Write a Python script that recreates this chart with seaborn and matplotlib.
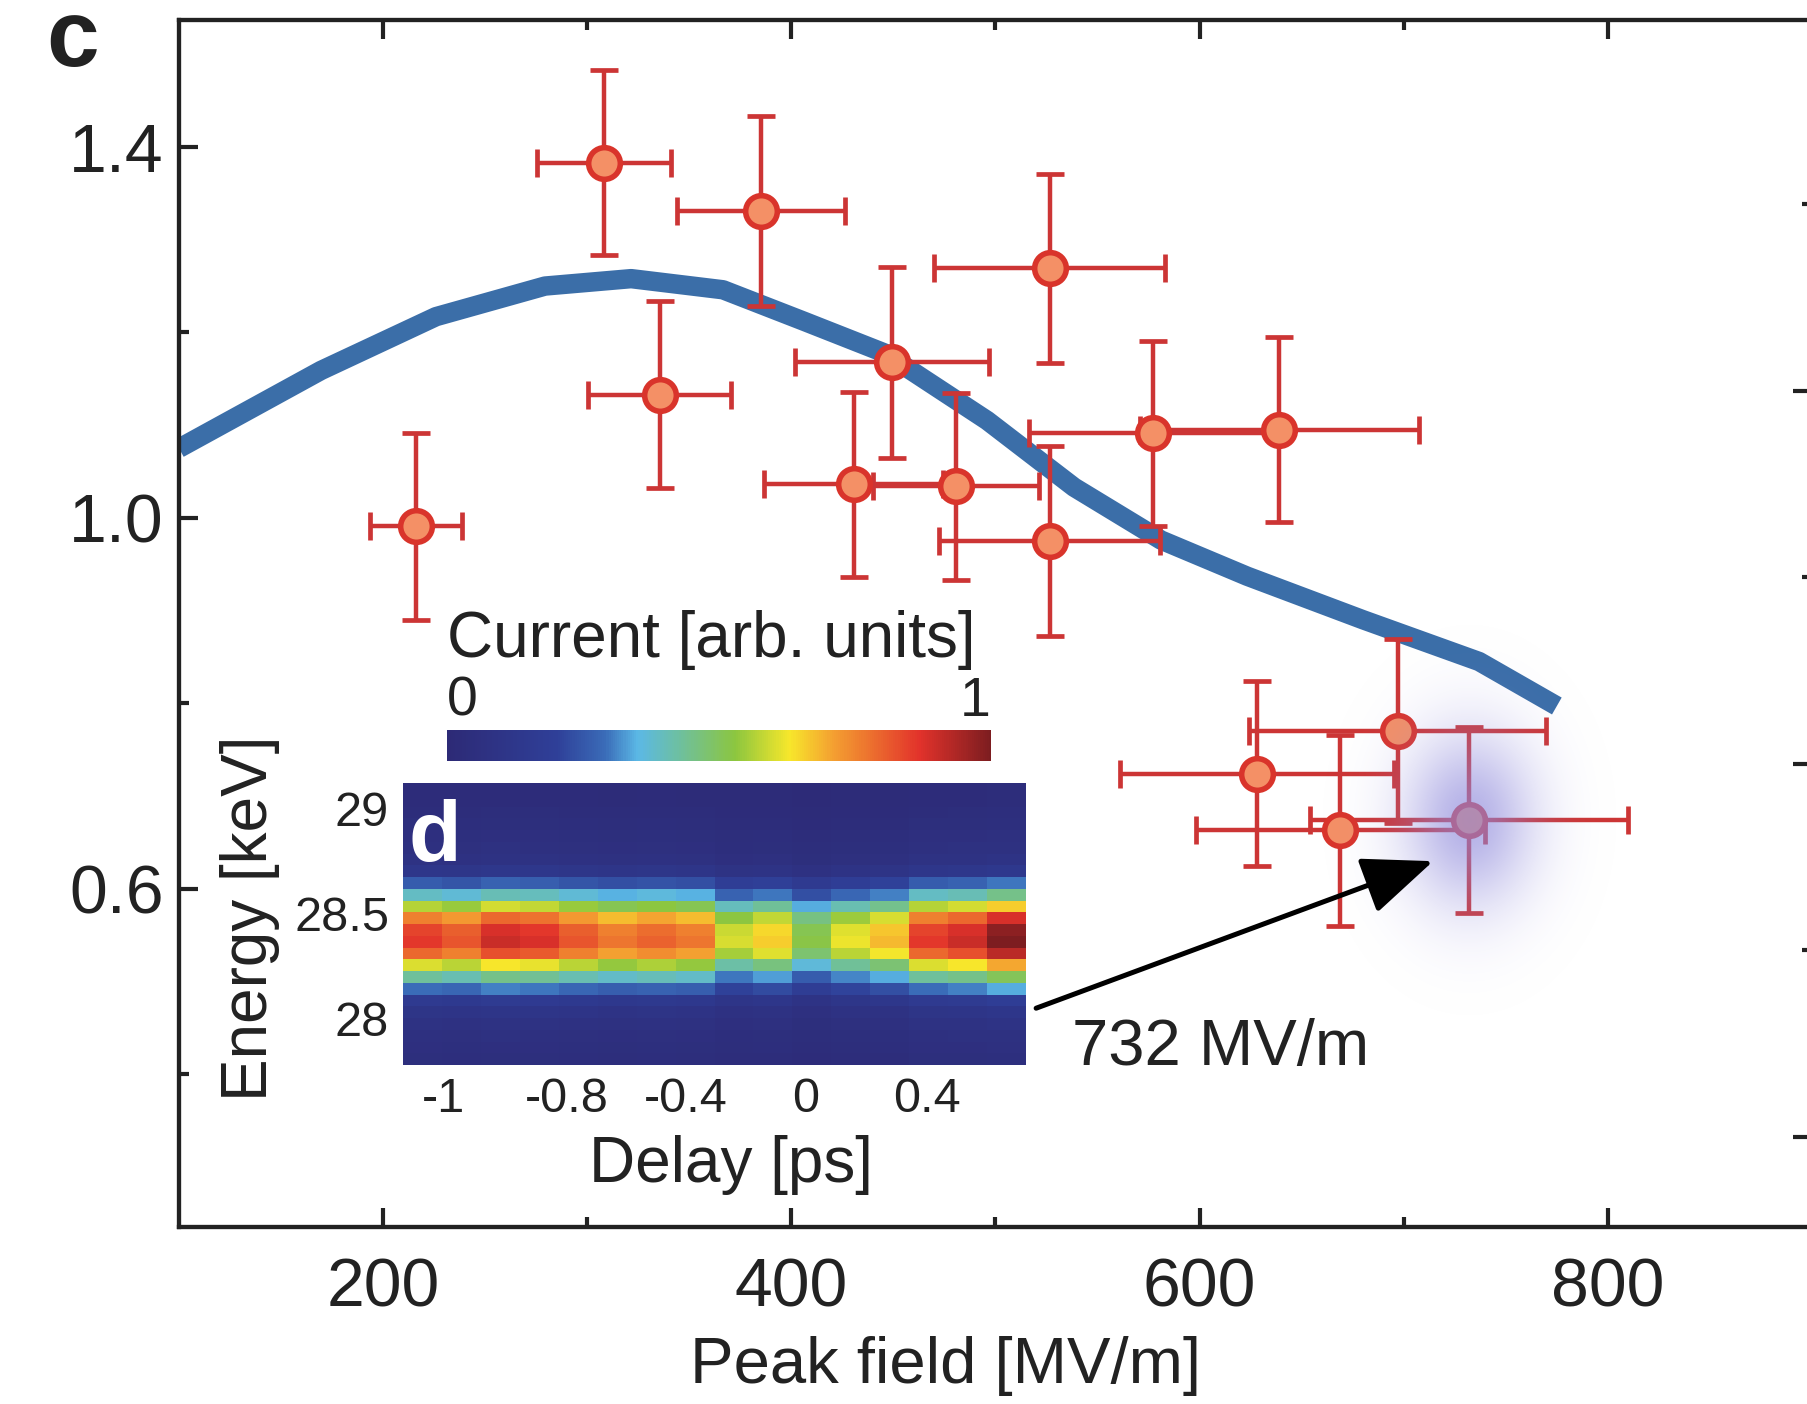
import numpy as np
import matplotlib
matplotlib.use("Agg")
import matplotlib.pyplot as plt
from matplotlib.colors import LinearSegmentedColormap
from matplotlib import font_manager
import seaborn as sns
import pandas as pd

# ---------------- data ----------------
peak_field = [216, 308, 335.5, 385, 449.5, 430.5, 480.5, 526.5, 526.5, 577, 639, 628, 697, 669, 732]
current_ratio = [0.991, 1.383, 1.133, 1.331, 1.168, 1.036, 1.034, 1.269, 0.975, 1.091, 1.095,
                 0.724, 0.770, 0.663, 0.674]
field_err = [22.6, 32.8, 35, 41.2, 47.5, 44, 40.7, 56.5, 54.2, 60.4, 68.4, 67.2, 72.6, 70.6, 77.7]
ratio_err = [0.101, 0.100, 0.101, 0.102, 0.103, 0.100, 0.101, 0.102, 0.102, 0.100, 0.100,
             0.100, 0.099, 0.103, 0.100]

curve_field = [100, 169.6, 225.9, 279.3, 321.5, 366.5, 406.2, 445.4, 495.9, 538.5, 581.1,
               623.3, 680.1, 736.9, 775]
curve_val = [1.075, 1.159, 1.217, 1.250, 1.258, 1.246, 1.212, 1.178, 1.105, 1.033, 0.976,
             0.937, 0.890, 0.845, 0.797]

x_major = [200, 400, 600, 800]
x_minor = [300, 500, 700]
y_major = [0.6, 1.0, 1.4]
y_major_labels = ["0.6", "1.0", "1.4"]
y_minor = [0.4, 0.8, 1.2]

# inset (d): energy-resolved current vs delay
energy_profile = [0.03, 0.03, 0.04, 0.05, 0.06, 0.07, 0.09, 0.14, 0.3, 0.45, 0.66, 0.88,
                  0.98, 1.0, 0.92, 0.7, 0.5, 0.34, 0.18, 0.12, 0.09, 0.07, 0.06, 0.05]
delay_amplitude = [0.86, 0.82, 0.9, 0.88, 0.82, 0.77, 0.8, 0.77, 0.6, 0.66, 0.52, 0.62,
                   0.68, 0.86, 0.9, 1.0]
energy_top, energy_bottom = 29.12, 27.78
energy_ticks = [29, 28.5, 28]
energy_tick_labels = ["29", "28.5", "28"]
delay_tick_cols = [1.05, 4.2, 7.25, 10.35, 13.45]
delay_tick_labels = ["-1", "-0.8", "-0.4", "0", "0.4"]

highlight_label = "732 MV/m"

# ---------------- style ----------------
sns.set_theme(style="ticks")
plt.rcParams['font.family'] = ['Liberation Sans', 'DejaVu Sans']
names = {f.name for f in font_manager.fontManager.ttflist}
narrow = ['Liberation Sans Narrow', 'Liberation Sans'] if 'Liberation Sans Narrow' in names else ['Liberation Sans']

TXT = '#222222'
W, H = 1808, 1404

fig = plt.figure(figsize=(W / 100, H / 100), dpi=100)
fig.patch.set_facecolor('white')

# main axes
L, R, T, B = 179, 1812, 20, 1227
ax = fig.add_axes([L / W, 1 - B / H, (R - L) / W, (B - T) / H])
ax.set_facecolor('white')

sns.lineplot(x=curve_field, y=curve_val, ax=ax, color='#3b6ea8', lw=14, sort=False,
             zorder=2, solid_capstyle='butt', solid_joinstyle='round')
ax.errorbar(peak_field, current_ratio, xerr=field_err, yerr=ratio_err, fmt='none',
            ecolor='#cc3535', elinewidth=3.2, capsize=10, capthick=3.4, zorder=3)
sns.scatterplot(x=peak_field, y=current_ratio, ax=ax, s=520, color='#f49066',
                edgecolor='#d9342b', linewidth=4, zorder=4, legend=False)

ax.set_xlim(100, 900)
ax.set_ylim(0.235, 1.537)

# glow around highlighted point
gx, gy = peak_field[-1], current_ratio[-1]
g = np.linspace(-1, 1, 300)
GX, GY = np.meshgrid(g, g)
img = np.zeros((300, 300, 4))
img[..., 0], img[..., 1], img[..., 2] = 0.56, 0.54, 0.86
img[..., 3] = 0.66 * np.exp(-(GX ** 2 + GY ** 2) / (2 * 0.3 ** 2))
ax.imshow(img, extent=(gx - 75, gx + 75, gy - 0.22, gy + 0.22), aspect='auto',
          zorder=5, interpolation='bilinear')
ax.set_xlim(100, 900)
ax.set_ylim(0.235, 1.537)

ax.annotate('', xy=(714.4, 0.6296), xytext=(519.9, 0.471),
            arrowprops=dict(arrowstyle='-|>,head_length=1.1,head_width=0.45', color='black',
                            lw=3.6, mutation_scale=40, shrinkA=0, shrinkB=0), zorder=6)
ax.text(610.5, 0.4095, highlight_label, ha='center', va='baseline', fontsize=47, color=TXT,
        zorder=6)

ax.set_xticks(x_major)
ax.set_xticks(x_minor, minor=True)
ax.set_xticklabels([str(v) for v in x_major])
ax.set_yticks(y_major)
ax.set_yticks(y_minor, minor=True)
ax.set_yticklabels(y_major_labels)
ax.tick_params(which='both', direction='in', top=True, right=False, width=3, color=TXT,
               labelcolor=TXT)
ax.tick_params(which='major', length=14, labelsize=49)
ax.tick_params(which='minor', length=7)
ax.tick_params(axis='x', which='major', pad=21)
ax.tick_params(axis='y', which='major', pad=11)
for sp in ax.spines.values():
    sp.set_linewidth(3)
    sp.set_color(TXT)
    sp.set_visible(True)

ax2 = ax.twinx()
ax2.set_ylim(0.7587, 3.9946)
ax2.set_yticks([1, 2, 3])
ax2.set_yticks([1.5, 2.5, 3.5], minor=True)
ax2.tick_params(which='both', direction='in', right=True, labelright=False, width=3, color=TXT)
ax2.tick_params(which='major', length=14)
ax2.tick_params(which='minor', length=7)
for sp in ax2.spines.values():
    sp.set_linewidth(3)
    sp.set_color(TXT)

fig.text(945 / W, 1 - 1383 / H, "Peak field [MV/m]", ha='center', va='baseline',
         fontsize=47, color=TXT)
fig.text(46 / W, 1 - 66 / H, "c", ha='left', va='baseline', fontsize=68,
         fontweight='bold', color=TXT)

# ---------------- inset heatmap ----------------
current_map = np.outer(energy_profile, delay_amplitude)
cmap = LinearSegmentedColormap.from_list('cur', [
    (0.0, '#2d2a76'), (0.2, '#2f3f98'), (0.29, '#3a6cb8'), (0.35, '#5bb8e6'),
    (0.42, '#6cbfa6'), (0.53, '#8cc63f'), (0.63, '#f7e72b'), (0.71, '#f4a031'),
    (0.87, '#e2322b'), (1.0, '#7d1d20')])

hl, hr, ht, hb = 403, 1026, 783, 1065
axin = fig.add_axes([hl / W, 1 - hb / H, (hr - hl) / W, (hb - ht) / H])
sns.heatmap(current_map, ax=axin, cmap=cmap, vmin=0, vmax=1, cbar=False,
            xticklabels=False, yticklabels=False)
nrows = len(energy_profile)
estep = (energy_top - energy_bottom) / nrows
axin.set_yticks([(energy_top - e) / estep for e in energy_ticks])
axin.set_yticklabels(energy_tick_labels, rotation=0, fontsize=35, color=TXT, family=narrow)
axin.set_xticks(delay_tick_cols)
axin.set_xticklabels(delay_tick_labels, rotation=0, fontsize=35, color=TXT, family=narrow)
axin.tick_params(length=0)
axin.tick_params(axis='y', pad=10)
axin.tick_params(axis='x', pad=9)
for sp in axin.spines.values():
    sp.set_visible(False)

fig.text(250 / W, 1 - 918 / H, "Energy [keV]", rotation=90, ha='center', va='center',
         fontsize=46, color=TXT)
fig.text(731 / W, 1 - 1182 / H, "Delay [ps]", ha='center', va='baseline', fontsize=46,
         color=TXT)
fig.text(409 / W, 1 - 861 / H, "d", ha='left', va='baseline', fontsize=62,
         fontweight='bold', color='white')

# colorbar
cax = fig.add_axes([447 / W, 1 - 761 / H, (991 - 447) / W, 31 / H])
sm = plt.cm.ScalarMappable(cmap=cmap, norm=plt.Normalize(0, 1))
cb = fig.colorbar(sm, cax=cax, orientation='horizontal')
cb.outline.set_visible(False)
cb.set_ticks([])
fig.text(447 / W, 1 - 716 / H, "0", ha='left', va='baseline', fontsize=40, color=TXT)
fig.text(991 / W, 1 - 716 / H, "1", ha='right', va='baseline', fontsize=40, color=TXT)
fig.text(711 / W, 1 - 657 / H, "Current [arb. units]", ha='center', va='baseline',
         fontsize=46, color=TXT)

fig.savefig("out.png", dpi=100)
